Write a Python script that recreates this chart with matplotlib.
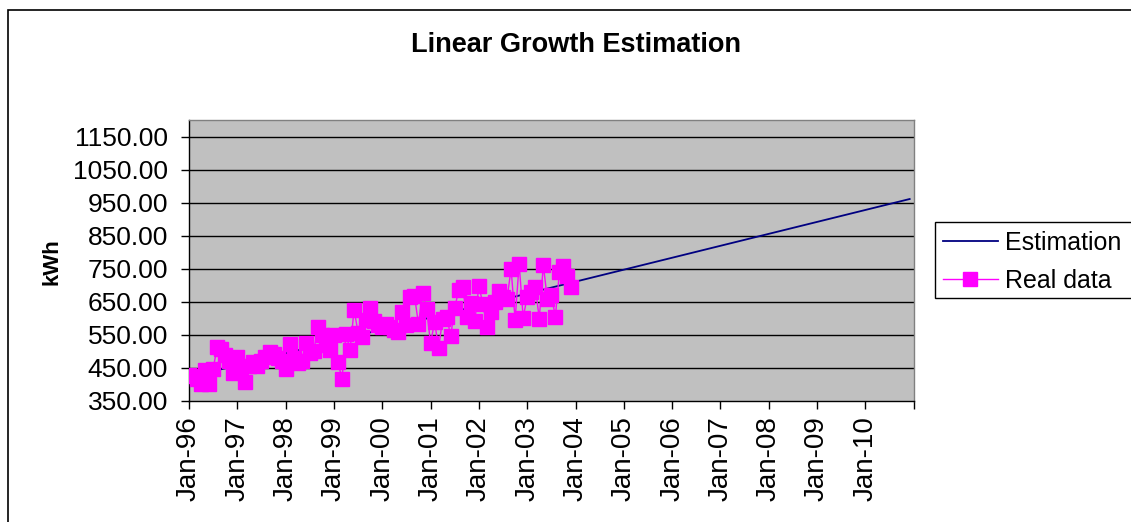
import matplotlib
matplotlib.use('Agg')
import matplotlib.pyplot as plt
from matplotlib.patches import Rectangle

plt.rcParams['font.family'] = ['Liberation Sans', 'DejaVu Sans']

# monthly readings, Jan-96 .. Dec-03 (kWh)
real_kwh = [
    430, 425, 417, 401, 444, 402, 448, 513, 507, 489, 470, 435,   # 1996
    484, 440, 408, 455, 468, 455, 470, 483, 498, 492, 480, 470,   # 1997
    447, 522, 480, 466, 470, 526, 495, 500, 575, 550, 520, 504,   # 1998
    551, 468, 417, 553, 504, 626, 557, 545, 595, 630, 592, 580,   # 1999
    574, 583, 575, 565, 560, 620, 580, 664, 668, 583, 676, 628,   # 2000
    525, 589, 510, 598, 604, 547, 632, 686, 694, 604, 647, 593,   # 2001
    699, 643, 575, 620, 650, 683, 666, 660, 750, 595, 765, 602,   # 2002
    666, 680, 696, 599, 761, 659, 670, 605, 740, 758, 727, 695,   # 2003
]
real_months = list(range(len(real_kwh)))

# linear estimate, Jan-96 and Dec-10
est_months = [0, 179]
est_kwh = [422, 961]

year_labels = ['Jan-96', 'Jan-97', 'Jan-98', 'Jan-99', 'Jan-00', 'Jan-01', 'Jan-02',
               'Jan-03', 'Jan-04', 'Jan-05', 'Jan-06', 'Jan-07', 'Jan-08', 'Jan-09', 'Jan-10']
y_ticks = [350, 450, 550, 650, 750, 850, 950, 1050, 1150]


def main():
    W, H = 1131, 522
    fig = plt.figure(figsize=(W / 100, H / 100), dpi=100)
    fig.patch.set_facecolor('white')

    # outer chart border (cut at right/bottom like the original)
    fig.patches.append(Rectangle((8 / W, -0.05), 1.1, 1 - 10 / H + 0.05, transform=fig.transFigure,
                                 fill=False, edgecolor='black', linewidth=1.2))

    ax = fig.add_axes([189 / W, 1 - 401 / H, (913.7 - 189) / W, (401 - 120) / H])
    ax.set_facecolor('#C0C0C0')

    est, = ax.plot(est_months, est_kwh, color='#000080', linewidth=1.3, zorder=3)
    real, = ax.plot(real_months, real_kwh, color='#FF00FF', linewidth=1.0, marker='s',
                    markersize=10, markerfacecolor='#FF00FF', markeredgecolor='#FF00FF', zorder=4)

    ax.set_xlim(0, 180)
    ax.set_ylim(350, 1200)

    ax.set_yticks(y_ticks)
    ax.set_yticklabels(['%.2f' % v for v in y_ticks], fontsize=19)
    ax.set_xticks(list(range(0, 181, 12)))
    ax.set_xticklabels(year_labels + [''], rotation=90, fontsize=20)
    ax.tick_params(direction='out', length=6, width=1, color='black')
    ax.tick_params(axis='y', pad=9)
    ax.tick_params(axis='x', pad=5)

    for v in y_ticks[1:]:
        ax.axhline(v, color='black', linewidth=1.0, zorder=1)

    for side in ['left', 'bottom']:
        ax.spines[side].set_color('black')
        ax.spines[side].set_linewidth(1.0)
    for side in ['top', 'right']:
        ax.spines[side].set_color('#808080')
        ax.spines[side].set_linewidth(1.0)

    fig.text(52 / W, 1 - 262 / H, 'kWh', rotation=90, fontsize=16, fontweight='bold',
             ha='center', va='center')
    fig.text(576 / W, 1 - 45 / H, 'Linear Growth Estimation', fontsize=19.5, fontweight='bold',
             ha='center', va='center')

    # legend box runs off the right edge
    fig.patches.append(Rectangle((935 / W, 1 - 298 / H), 0.2, (298 - 222) / H,
                                 transform=fig.transFigure, fill=True, facecolor='white',
                                 edgecolor='black', linewidth=1.0, zorder=5))
    leg = fig.legend([est, real], ['Estimation', 'Real data'], loc='center left',
                     bbox_to_anchor=(925 / W, 1 - 262 / H), frameon=False, fontsize=18,
                     handlelength=2.2, handletextpad=0.3, labelspacing=0.55, borderpad=0.2)
    leg.set_zorder(6)

    fig.savefig('out.png', dpi=100)


if __name__ == '__main__':
    main()
